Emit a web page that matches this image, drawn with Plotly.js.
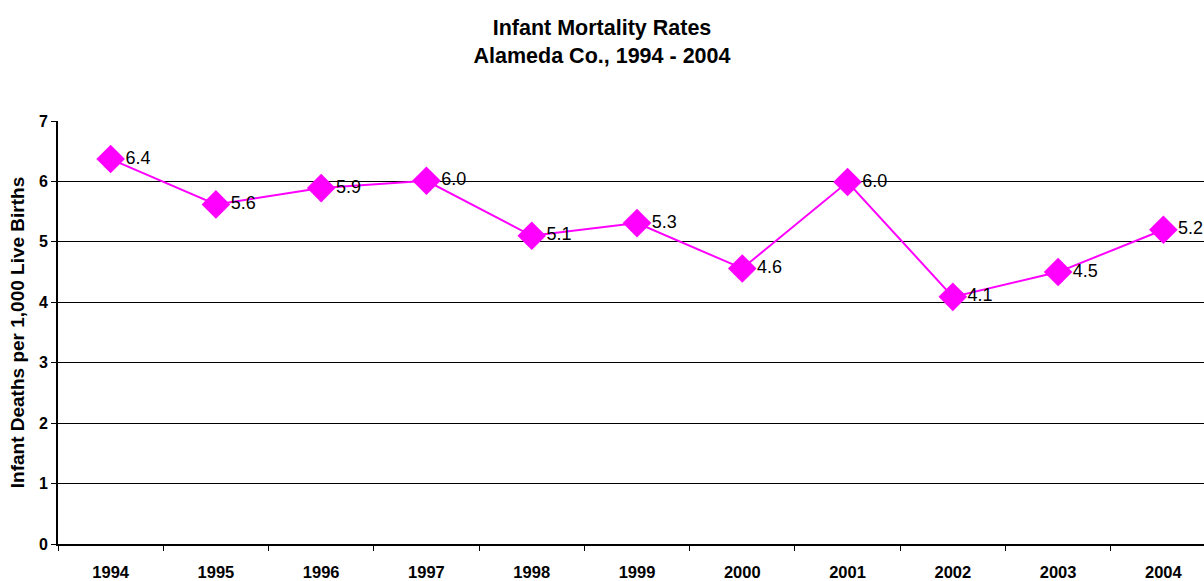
<!DOCTYPE html>
<html>
<head>
<meta charset="utf-8">
<script src="https://cdn.plot.ly/plotly-3.0.1.min.js"></script>
<style>html,body{margin:0;padding:0;background:#fff;}#chart{width:1204px;height:581px;}</style>
</head>
<body>
<div id="chart"></div>
<script>
const years = ["1994","1995","1996","1997","1998","1999","2000","2001","2002","2003","2004"];
const rates = [6.37, 5.62, 5.89, 6.01, 5.10, 5.31, 4.56, 5.99, 4.09, 4.50, 5.20];
const rateLabels = ["6.4","5.6","5.9","6.0","5.1","5.3","4.6","6.0","4.1","4.5","5.2"];
const yTicks = [0,1,2,3,4,5,6,7];

const FONT = "Liberation Sans, Arial, sans-serif";

const trace = {
  x: years, y: rates, text: rateLabels,
  type: "scatter", mode: "lines+markers+text",
  textposition: "middle right",
  textfont: {family: FONT, size: 18, color: "#000"},
  line: {color: "#FF00FF", width: 2},
  marker: {symbol: "diamond", size: 22, color: "#FF00FF"},
  cliponaxis: false, hoverinfo: "none"
};

const layout = {
  width: 1204, height: 581,
  margin: {l: 58, r: 0, t: 121, b: 37},
  paper_bgcolor: "#fff", plot_bgcolor: "#fff",
  showlegend: false,
  font: {family: FONT, color: "#000"},
  title: {
    text: "<b>Infant Mortality Rates</b><br><b>Alameda Co., 1994 - 2004</b>",
    x: 0.5, xanchor: "center", y: 0.94, yanchor: "top",
    font: {size: 21.5, family: FONT, color: "#000"}
  },
  xaxis: {
    type: "category", range: [-0.5, 10.386],
    tickson: "boundaries", ticks: "outside", ticklen: 5, tickcolor: "#000",
    showgrid: false, showline: true, linecolor: "#000", linewidth: 2,
    tickfont: {size: 16.5, family: FONT, weight: "bold"},
    ticklabelstandoff: 12,
    fixedrange: true
  },
  yaxis: {
    range: [0, 7], tickvals: yTicks, ticktext: yTicks.map(String),
    ticks: "outside", ticklen: 5, tickcolor: "#000",
    showgrid: true, gridcolor: "#000", gridwidth: 1,
    showline: true, linecolor: "#000", linewidth: 2,
    zeroline: false,
    tickfont: {size: 16, family: FONT, weight: "bold"},
    title: {text: "<b>Infant Deaths per 1,000 Live Births</b>", standoff: 9,
            font: {size: 19, family: FONT}},
    fixedrange: true
  }
};

Plotly.newPlot("chart", [trace], layout, {displayModeBar: false, staticPlot: true});
</script>
</body>
</html>
